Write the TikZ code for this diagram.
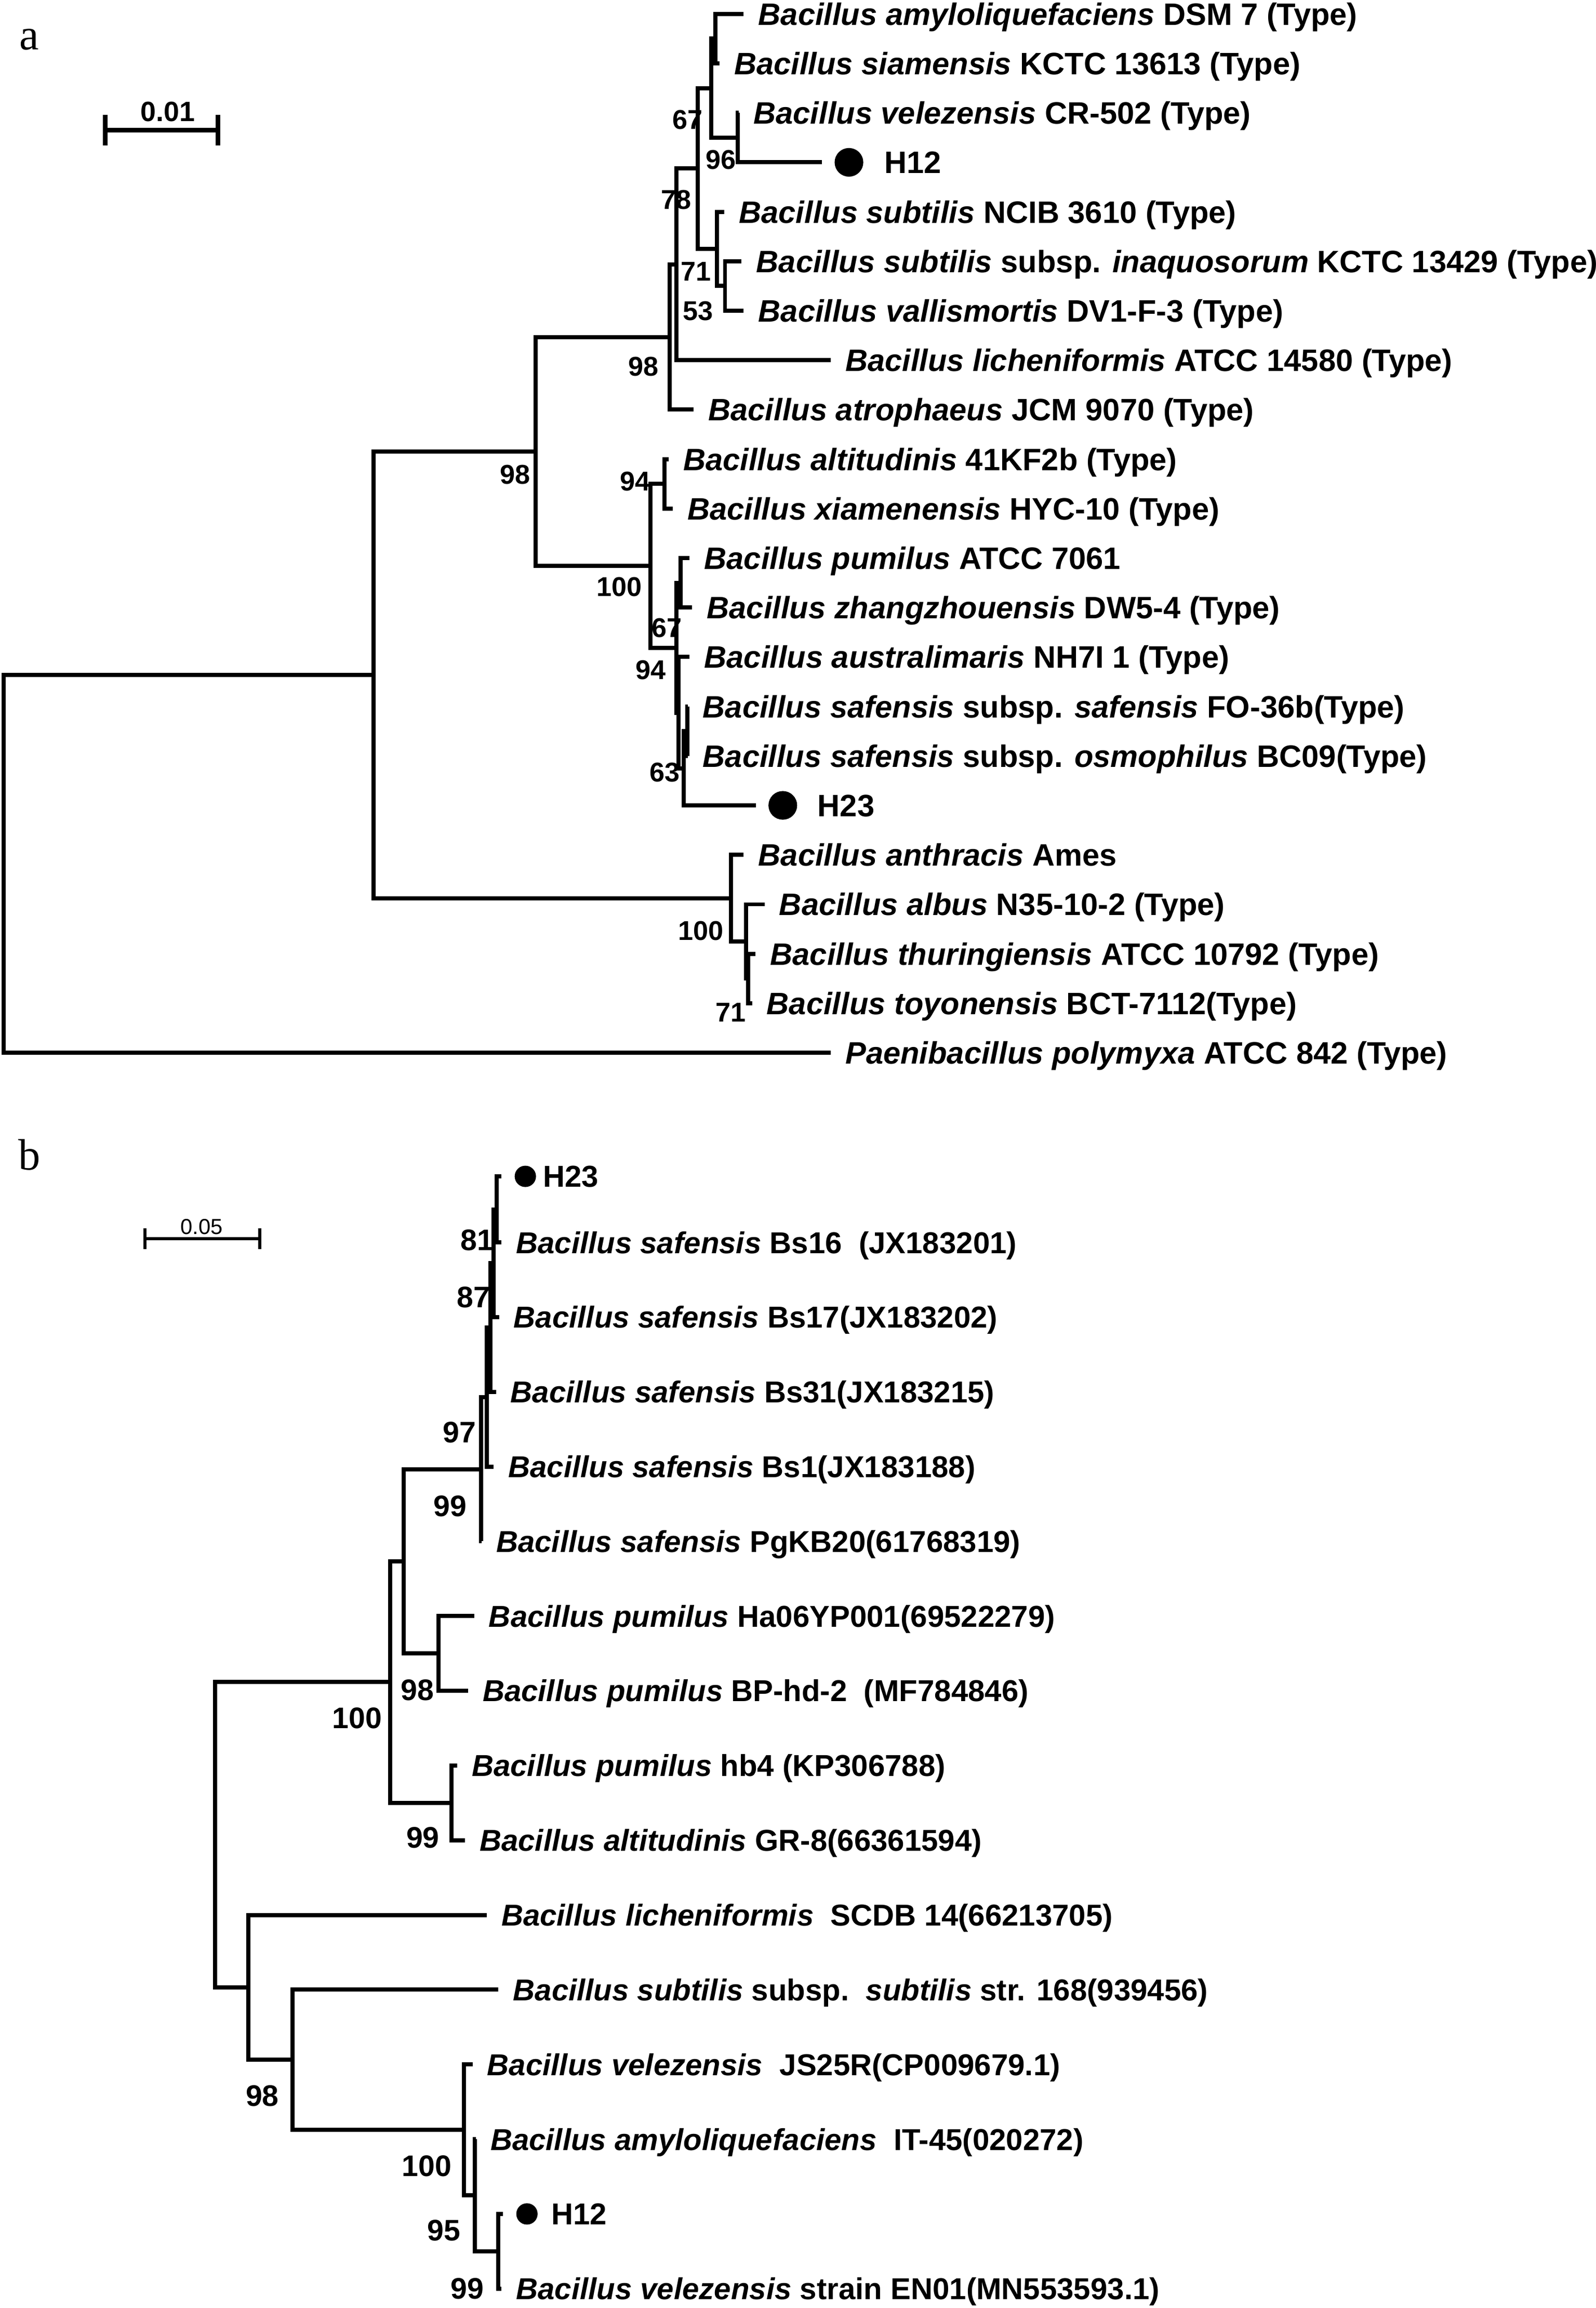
\documentclass[tikz,border=0pt]{standalone}
\usepackage{fontspec}
\setmainfont{Liberation Sans}
\newfontfamily\panelfont{Liberation Serif}
\usetikzlibrary{positioning}

\begin{document}
\begin{tikzpicture}[x=0.2mm, y=-0.2mm, line width=1.6pt,
    every node/.style={inner sep=0pt},
    leaf/.style={anchor=west, outer xsep=2mm, text height=8.6pt, text depth=0pt,
      font=\fontsize{12}{14}\selectfont\bfseries},
    leafb/.style={leaf, text height=8.4pt, font=\fontsize{11.7}{14}\selectfont\bfseries},
    hlab/.style={anchor=west, text height=8.6pt, text depth=0pt,
      font=\fontsize{12}{14}\selectfont\bfseries},
    hlabb/.style={hlab, text height=8.4pt, font=\fontsize{11.7}{14}\selectfont\bfseries},
    boot/.style={font=\fontsize{10.5}{12}\selectfont\bfseries},
    bootb/.style={font=\fontsize{11.5}{13}\selectfont\bfseries},
    hdot/.style={circle, fill, minimum size=3.9mm, outer sep=1.7mm},
    hdotb/.style={circle, fill, minimum size=2.9mm, outer sep=1.8mm},
    panel/.style={font=\fontsize{17}{20}\selectfont\panelfont}]

  \useasboundingbox (0,0) rectangle (1085.2,1569.6);

  % ---------- panel a ----------
  \node[panel] (pa) at (19.9,27) {a};
  \coordinate (sbaL) at (71.6,88.5);
  \coordinate (sbaR) at (148.2,88.5);
  \draw[line width=1.7pt] (sbaL) -- (sbaR);
  \foreach \p in {sbaL,sbaR}
    \draw[line width=1.7pt] (\p) +(0,-10.3) -- +(0,10.3);
  \node[font=\fontsize{10.8}{12}\selectfont\bfseries] (sbalab) at (114,76) {0.01};

  \coordinate (ra) at (2.4,587.4);
  \coordinate (a1) at (254,458.9);
  \coordinate (a2) at (364.4,307);
  \coordinate (a3) at (455.3,229.2);
  \coordinate (a4) at (460,179.8);
  \coordinate (a78) at (474.7,114.6);
  \coordinate (a67) at (483.7,59.95);
  \coordinate (aAS) at (486.5,26.3);
  \coordinate (a96) at (501.7,93.6);
  \coordinate (a71) at (487.5,169.3);
  \coordinate (a53) at (493.1,194.5);
  \coordinate (a100) at (442.5,384.8);
  \coordinate (a94) at (452,329.1);
  \coordinate (a94b) at (460,440.5);
  \coordinate (a67b) at (462.8,396.35);
  \coordinate (aX) at (461.5,484.65);
  \coordinate (a63) at (465,522.5);
  \coordinate (aSO) at (467.6,497.3);
  \coordinate (a100c) at (497,610.8);
  \coordinate (aZ) at (507.3,640.25);
  \coordinate (aW) at (508.7,665.5);

  \node[leaf] (amyloA) at (505.8,9.5) {\textit{Bacillus amyloliquefaciens} DSM 7 (Type)};
  \node[leaf] (siamA) at (489.3,43.1) {\textit{Bacillus siamensis} KCTC 13613 (Type)};
  \node[leaf] (velezA) at (502.5,76.8) {\textit{Bacillus velezensis} CR-502 (Type)};
  \node[hdot] (h12A) at (577.4,110.4) {};
  \node[hlab] (h12Atxt) at (600.1,110.4) {H12};
  \node[leaf] (ncibA) at (492.6,144.1) {\textit{Bacillus subtilis} NCIB 3610 (Type)};
  \node[leaf] (inaqA) at (504.4,177.7) {\textit{Bacillus subtilis} subsp. \textit{inaquosorum} KCTC 13429 (Type)};
  \node[leaf] (vallisA) at (505.8,211.3) {\textit{Bacillus vallismortis} DV1-F-3 (Type)};
  \node[leaf] (lichA) at (565,245) {\textit{Bacillus licheniformis} ATCC 14580 (Type)};
  \node[leaf] (atroA) at (471.8,278.6) {\textit{Bacillus atrophaeus} JCM 9070 (Type)};
  \node[leaf] (altitA) at (454.7,312.3) {\textit{Bacillus altitudinis} 41KF2b (Type)};
  \node[leaf] (xiamA) at (457.6,345.9) {\textit{Bacillus xiamenensis} HYC-10 (Type)};
  \node[leaf] (pumilA) at (469,379.5) {\textit{Bacillus pumilus} ATCC 7061};
  \node[leaf] (zhangA) at (470.8,413.2) {\textit{Bacillus zhangzhouensis} DW5-4 (Type)};
  \node[leaf] (austrA) at (469,446.8) {\textit{Bacillus australimaris} NH7I 1 (Type)};
  \node[leaf] (safA) at (468,480.5) {\textit{Bacillus safensis} subsp. \textit{safensis} FO-36b(Type)};
  \node[leaf] (osmA) at (468,514.1) {\textit{Bacillus safensis} subsp. \textit{osmophilus} BC09(Type)};
  \node[hdot] (h23A) at (532.4,547.7) {};
  \node[hlab] (h23Atxt) at (554.7,547.7) {H23};
  \node[leaf] (anthrA) at (505.8,581.4) {\textit{Bacillus anthracis} Ames};
  \node[leaf] (albusA) at (520,615) {\textit{Bacillus albus} N35-10-2 (Type)};
  \node[leaf] (thurA) at (513.9,648.7) {\textit{Bacillus thuringiensis} ATCC 10792 (Type)};
  \node[leaf] (toyonA) at (511.5,682.3) {\textit{Bacillus toyonensis} BCT-7112(Type)};
  \node[leaf] (paeniA) at (565,715.9) {\textit{Paenibacillus polymyxa} ATCC 842 (Type)};

  \foreach \p/\c in {ra/a1, ra/paeniA, a1/a2, a1/a100c, a2/a3, a2/a100,
      a3/a4, a3/atroA, a4/a78, a4/lichA, a78/a67, a78/a71, a67/aAS, a67/a96,
      aAS/amyloA, aAS/siamA, a96/velezA, a96/h12A, a71/ncibA, a71/a53,
      a53/inaqA, a53/vallisA, a100/a94, a100/a94b, a94/altitA, a94/xiamA,
      a94b/a67b, a94b/aX, a67b/pumilA, a67b/zhangA, aX/austrA, aX/a63,
      a63/aSO, a63/h23A, aSO/safA, aSO/osmA, a100c/anthrA, a100c/aZ,
      aZ/albusA, aZ/aW, aW/thurA, aW/toyonA}
    \draw (\p) |- (\c);

  \foreach \n/\x/\y/\t in {1/467.6/81.4/67, 2/490.3/108.8/96, 3/460/135.8/78,
      4/473.3/184.6/71, 5/474.7/211.5/53, 6/437.8/249.4/98, 7/350.2/322.8/98,
      8/432/327.5/94, 9/421.2/399/100, 10/453.4/426.9/67, 11/442.5/455.7/94,
      12/452/525.3/63, 13/476.6/633.2/100, 14/496.9/688.6/71}
    \node[boot] (ba\n) at (\x,\y) {\t};

  % ---------- panel b ----------
  \node[panel] (pb) at (20,785.5) {b};
  \coordinate (sbbL) at (98.7,842.3);
  \coordinate (sbbR) at (176.8,842.3);
  \draw[line width=1.2pt] (sbbL) -- (sbbR);
  \foreach \p in {sbbL,sbbR}
    \draw[line width=1.2pt] (\p) +(0,-7) -- +(0,7);
  \node[font=\fontsize{8.4}{10}\selectfont] (sbblab) at (137.2,834.4) {0.05};

  \coordinate (rb) at (146.2,1247.7);
  \coordinate (b100) at (265.5,1143.95);
  \coordinate (bP) at (274.5,1061.8);
  \coordinate (b99) at (327.2,999.15);
  \coordinate (b97) at (331,950.1);
  \coordinate (b97a) at (333.6,902.8);
  \coordinate (b87) at (335.7,859.1);
  \coordinate (b81) at (337.8,822.45);
  \coordinate (b98p) at (298.2,1124.4);
  \coordinate (b99h) at (307.2,1226.1);
  \coordinate (bLow) at (168.9,1351.5);
  \coordinate (b98L) at (199,1400.75);
  \coordinate (b100L) at (315.6,1448.4);
  \coordinate (bX) at (322.9,1492.9);
  \coordinate (b95) at (339,1531);

  \node[hdotb] (h23B) at (357.3,800) {};
  \node[hlabb] (h23Btxt) at (367.9,800) {H23};
  \node[leafb] (bs16B) at (341,844.9) {\textit{Bacillus safensis} Bs16\ \ (JX183201)};
  \node[leafb] (bs17B) at (339.4,895.7) {\textit{Bacillus safensis} Bs17(JX183202)};
  \node[leafb] (bs31B) at (337.3,946.5) {\textit{Bacillus safensis} Bs31(JX183215)};
  \node[leafb] (bs1B) at (335.7,997.4) {\textit{Bacillus safensis} Bs1(JX183188)};
  \node[leafb] (pgB) at (327.5,1048.2) {\textit{Bacillus safensis} PgKB20(61768319)};
  \node[leafb] (ha06B) at (322.5,1099) {\textit{Bacillus pumilus} Ha06YP001(69522279)};
  \node[leafb] (bphdB) at (318.3,1149.8) {\textit{Bacillus pumilus} BP-hd-2\ \ (MF784846)};
  \node[leafb] (hb4B) at (310.9,1200.7) {\textit{Bacillus pumilus} hb4 (KP306788)};
  \node[leafb] (gr8B) at (316.2,1251.5) {\textit{Bacillus altitudinis} GR-8(66361594)};
  \node[leafb] (lichB) at (331,1302.3) {\textit{Bacillus licheniformis}\ \ SCDB 14(66213705)};
  \node[leafb] (subtB) at (339,1353.1) {\textit{Bacillus subtilis} subsp.\ \ \textit{subtilis} str. 168(939456)};
  \node[leafb] (veljsB) at (321.4,1403.9) {\textit{Bacillus velezensis}\ \ JS25R(CP009679.1)};
  \node[leafb] (amyitB) at (323.6,1454.8) {\textit{Bacillus amyloliquefaciens}\ \ IT-45(020272)};
  \node[hdotb] (h12B) at (358.4,1505.6) {};
  \node[hlabb] (h12Btxt) at (373.7,1505.6) {H12};
  \node[leafb] (en01B) at (341,1556.4) {\textit{Bacillus velezensis} strain EN01(MN553593.1)};

  \foreach \p/\c in {rb/b100, rb/bLow, b100/bP, b100/b99h, bP/b99, bP/b98p,
      b99/b97, b99/pgB, b97/b97a, b97/bs1B, b97a/b87, b97a/bs31B, b87/b81,
      b87/bs17B, b81/h23B, b81/bs16B, b98p/ha06B, b98p/bphdB, b99h/hb4B,
      b99h/gr8B, bLow/lichB, bLow/b98L, b98L/subtB, b98L/b100L,
      b100L/veljsB, b100L/bX, bX/amyitB, bX/b95, b95/h12B, b95/en01B}
    \draw (\p) |- (\c);

  \foreach \n/\x/\y/\t in {1/324.6/843.3/81, 2/322/882.4/87, 3/312.5/974.2/97,
      4/306.1/1024.4/99, 5/284/1149.5/98, 6/242.8/1168.5/100, 7/287.6/1249.7/99,
      8/178.4/1425.5/98, 9/290.3/1473/100, 10/301.9/1516.8/95, 11/317.7/1556.4/99}
    \node[bootb] (bb\n) at (\x,\y) {\t};
\end{tikzpicture}
\end{document}
